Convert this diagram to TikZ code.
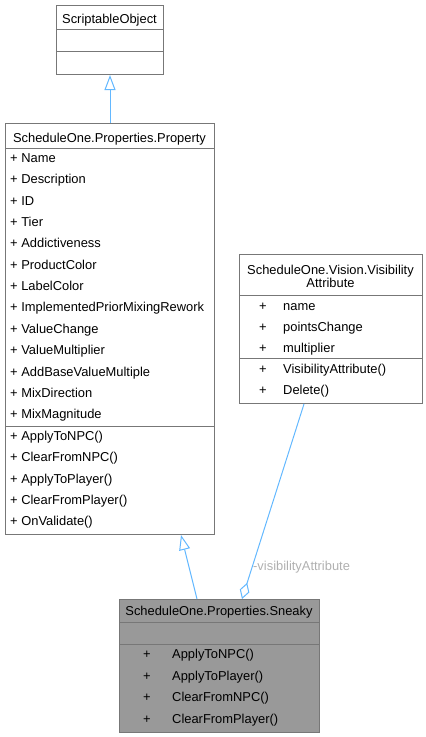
\documentclass[tikz,border=0pt]{standalone}
\usepackage{fontspec}
\setmainfont{Liberation Sans}
\usetikzlibrary{arrows.meta,calc}
\definecolor{boxline}{HTML}{777777}
\definecolor{edgeblue}{HTML}{63B8FF}
\definecolor{sneakyfill}{HTML}{999999}
\definecolor{labelgrey}{HTML}{B0B0B0}
\tikzset{
  umlbox/.style={draw=boxline, line width=1pt, fill=white, inner sep=0pt, anchor=north west},
  sepline/.style={draw=boxline, line width=1pt},
  txt/.style={inner sep=0pt, anchor=base west, font=\fontsize{12.9}{15}\selectfont},
  ctxt/.style={inner sep=0pt, anchor=base, font=\fontsize{12.9}{15}\selectfont},
  inh/.style={draw=edgeblue, line width=1pt, -{Triangle[open, length=15pt, width=11pt, fill=white]}},
  agg/.style={draw=edgeblue, line width=1pt, {Diamond[open, length=17pt, width=10pt, fill=white]}-},
  edgelabel/.style={inner sep=0pt, anchor=base west, text=labelgrey, font=\fontsize{12.9}{15}\selectfont}
}
\begin{document}
\begin{tikzpicture}[x=1pt, y=-1pt]
\useasboundingbox (0,0) rectangle (426,737);
% ScriptableObject
\node[umlbox, minimum width=107pt, minimum height=69pt] (so) at (56,5) {};
\draw[sepline] (56,29) -- (163,29);
\draw[sepline] (56,51) -- (163,51);
\node[ctxt] (sot) at (109.5,23.5) {ScriptableObject};
% Property
\node[umlbox, minimum width=209pt, minimum height=411pt] (prop) at (5,123) {};
\draw[sepline] (5,148) -- (214,148);
\draw[sepline] (5,426) -- (214,426);
\node[ctxt] (propt) at (109.5,142.5) {ScheduleOne.Properties.Property};
\foreach \t [count=\i from 0] in {Name,Description,ID,Tier,Addictiveness,ProductColor,LabelColor,ImplementedPriorMixingRework,ValueChange,ValueMultiplier,AddBaseValueMultiple,MixDirection,MixMagnitude}
  \node[txt] (pa\i) at (10,{162.5+21.35*\i}) {+ \t};
\foreach \t [count=\i from 0] in {ApplyToNPC(),ClearFromNPC(),ApplyToPlayer(),ClearFromPlayer(),OnValidate()}
  \node[txt] (pm\i) at (10,{440.5+21.35*\i}) {+ \t};
% VisibilityAttribute
\node[umlbox, minimum width=183pt, minimum height=149pt] (vis) at (239,254) {};
\draw[sepline] (239,295) -- (422,295);
\draw[sepline] (239,358) -- (422,358);
\node[ctxt] (vist1) at (330.5,274.5) {ScheduleOne.Vision.Visibility};
\node[ctxt] (vist2) at (330.5,287.8) {Attribute};
\foreach \t [count=\i from 0] in {name,pointsChange,multiplier}
  {\node[ctxt] (vp\i) at (263,{310.5+21*\i}) {+};
   \node[txt] (va\i) at (283,{310.5+21*\i}) {\t};}
\foreach \t [count=\i from 0] in {VisibilityAttribute(),Delete()}
  {\node[ctxt] (vq\i) at (263,{373.5+21*\i}) {+};
   \node[txt] (vm\i) at (283,{373.5+21*\i}) {\t};}
% Sneaky
\node[umlbox, fill=sneakyfill, minimum width=200pt, minimum height=133pt] (sn) at (119,599) {};
\draw[sepline] (119,622) -- (319,622);
\draw[sepline] (119,644) -- (319,644);
\node[ctxt] (snt) at (219,615.5) {ScheduleOne.Properties.Sneaky};
\foreach \t [count=\i from 0] in {ApplyToNPC(),ApplyToPlayer(),ClearFromNPC(),ClearFromPlayer()}
  {\node[ctxt] (sp\i) at (147,{658.5+21.5*\i}) {+};
   \node[txt] (sm\i) at (172,{658.5+21.5*\i}) {\t};}
% connectors
\draw[inh] (prop.north -| so.south) -- (so.south);
\draw[inh] ($(sn.north west)+(78,0)$) -- ($(prop.south west)+(176,0)$);
\draw[agg] ($(sn.north west)+(123,0)$) -- ($(vis.south west)+(65,0)$);
\node[edgelabel] (lbl) at (253,570) {-visibilityAttribute};
\end{tikzpicture}
\end{document}
